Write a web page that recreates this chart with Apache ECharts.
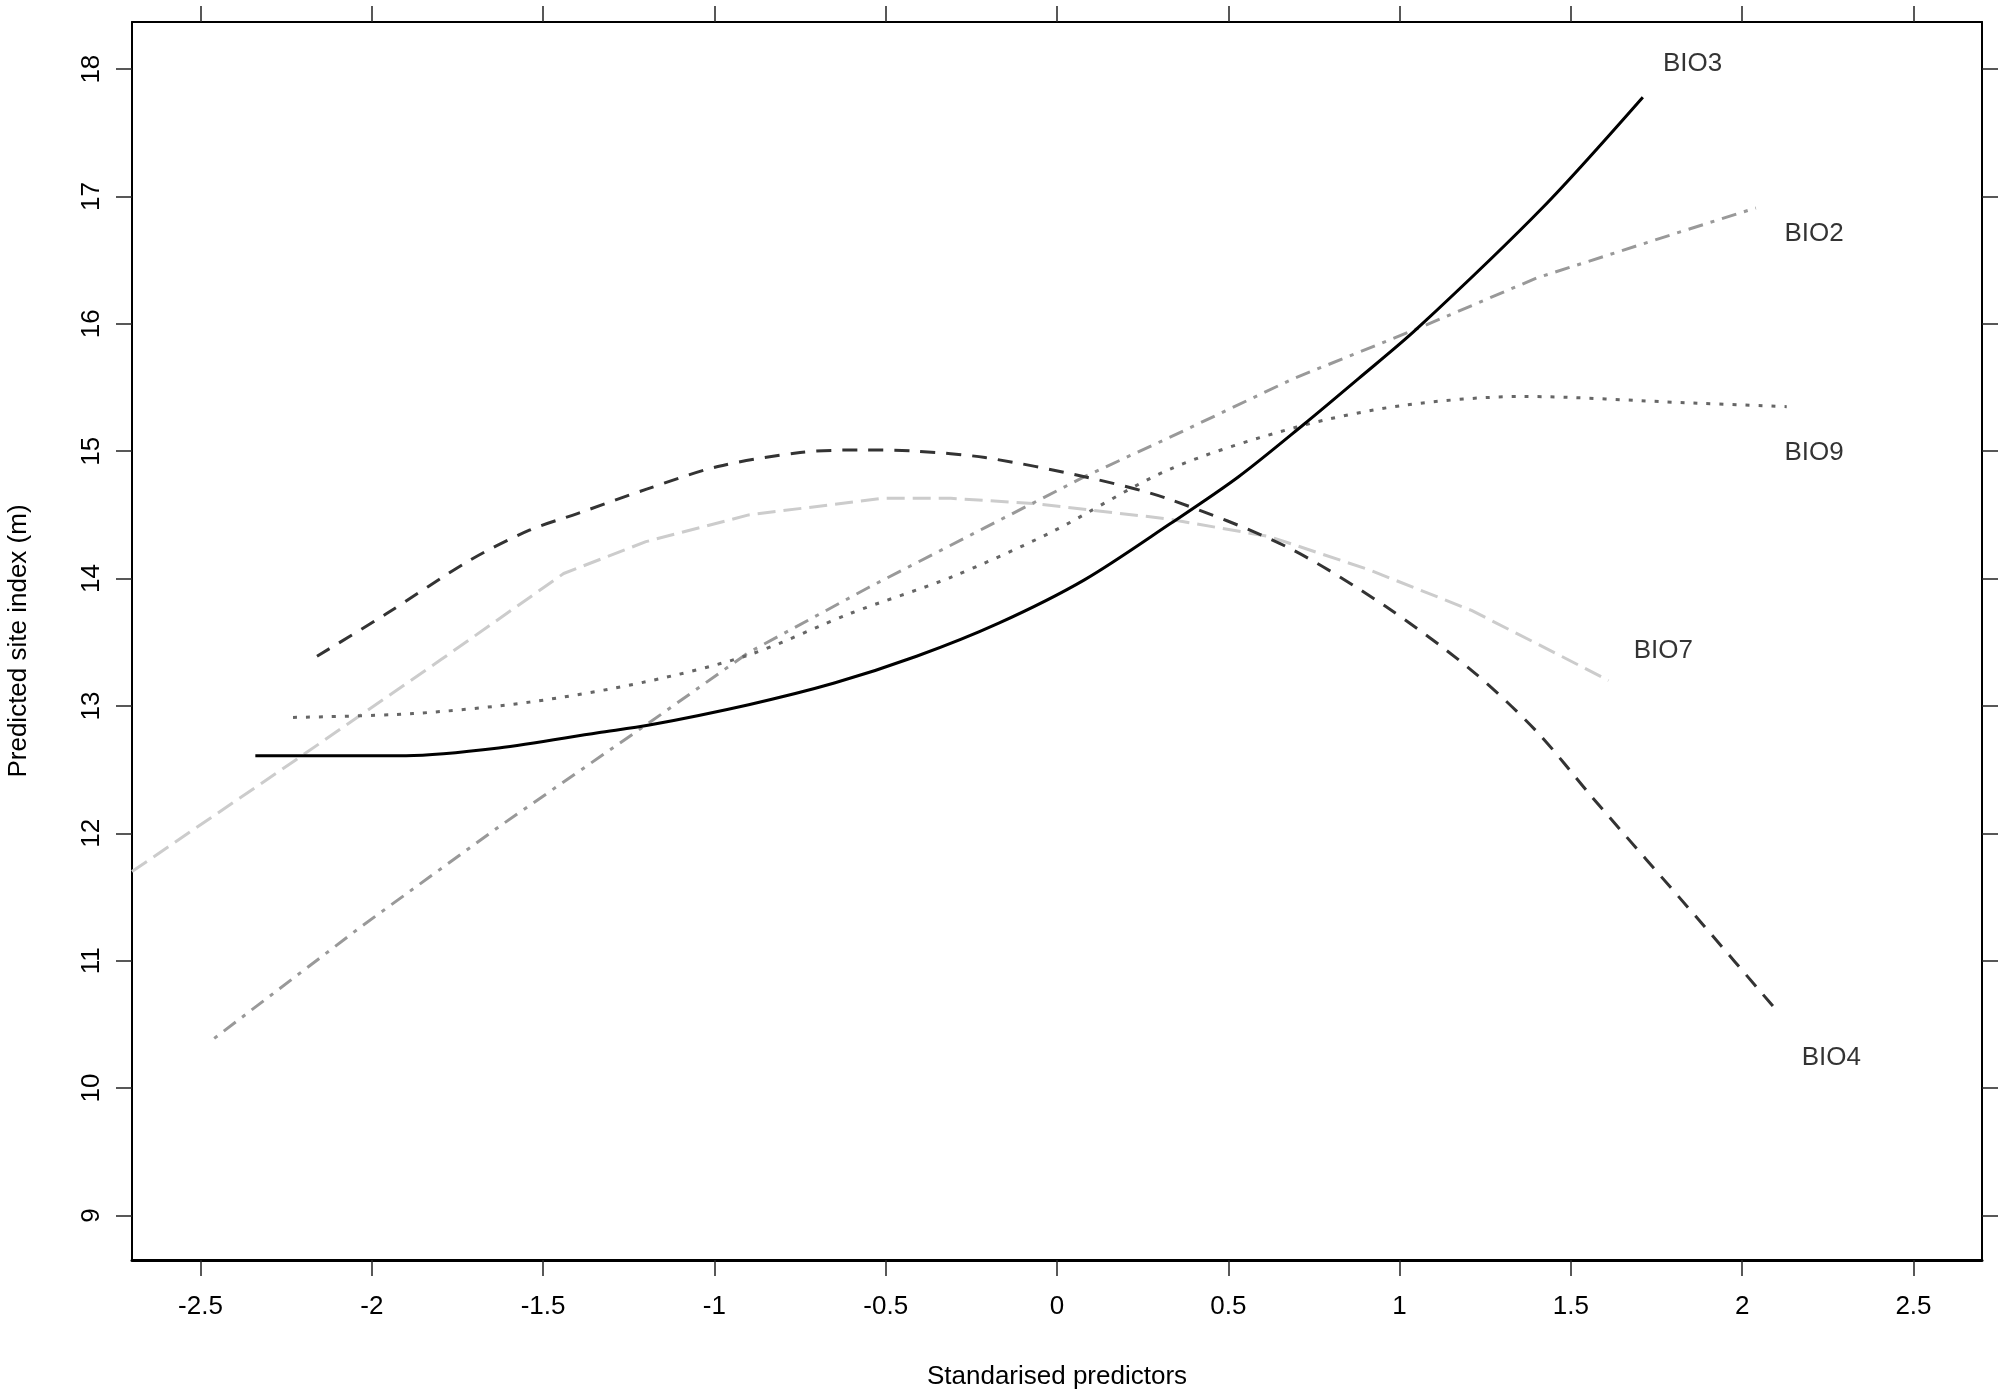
<!DOCTYPE html>
<html>
<head>
<meta charset="utf-8">
<title>Predicted site index</title>
<script src="https://cdn.jsdelivr.net/npm/echarts@6/dist/echarts.min.js"></script>
<style>
    html, body { margin: 0; padding: 0; background: #fff; }
    #main { width: 2006px; height: 1400px; }
</style>
</head>
<body>
<div id="main"></div>
<script>
// 刻度
const xTicks = [-2.5, -2, -1.5, -1, -0.5, 0, 0.5, 1, 1.5, 2, 2.5];
const yTicks = [9, 10, 11, 12, 13, 14, 15, 16, 17, 18];

// 曲线数据 (x = standardised predictor, y = predicted site index)
const bio3X = [-2.34, -1.90, -1.63, -1.34, -1.19, -0.90, -0.65, -0.41, -0.17, 0.08, 0.33, 0.53, 0.72, 0.88, 1.05, 1.42, 1.71];
const bio3Y = [12.61, 12.61, 12.67, 12.79, 12.85, 13.01, 13.18, 13.39, 13.65, 13.99, 14.43, 14.80, 15.21, 15.57, 15.96, 16.92, 17.78];

const bio2X = [-2.46, -2.03, -1.63, -1.20, -0.90, -0.55, -0.21, 0.08, 0.33, 0.69, 1.05, 1.40, 1.84, 2.04];
const bio2Y = [10.39, 11.27, 12.05, 12.85, 13.42, 13.93, 14.40, 14.80, 15.11, 15.57, 15.96, 16.36, 16.74, 16.91];

const bio9X = [-2.23, -1.88, -1.54, -1.20, -0.90, -0.60, -0.31, -0.02, 0.33, 0.70, 1.01, 1.36, 1.84, 2.13];
const bio9Y = [12.91, 12.94, 13.03, 13.19, 13.40, 13.73, 14.01, 14.36, 14.86, 15.19, 15.36, 15.43, 15.38, 15.35];

const bio7X = [-2.70, -2.22, -1.80, -1.44, -1.20, -0.90, -0.51, -0.31, -0.07, 0.32, 0.62, 0.91, 1.21, 1.40, 1.61];
const bio7Y = [11.70, 12.58, 13.36, 14.04, 14.29, 14.50, 14.63, 14.63, 14.59, 14.47, 14.33, 14.07, 13.75, 13.49, 13.20];

const bio4X = [-2.16, -1.96, -1.71, -1.54, -1.40, -1.20, -0.99, -0.75, -0.58, -0.41, -0.21, 0.08, 0.32, 0.67, 0.96, 1.21, 1.40, 1.56, 1.88, 2.11];
const bio4Y = [13.39, 13.72, 14.15, 14.38, 14.51, 14.70, 14.88, 14.99, 15.01, 15.00, 14.95, 14.80, 14.63, 14.25, 13.78, 13.28, 12.80, 12.29, 11.30, 10.58];

// 曲线标注
const labelNames = ['BIO3', 'BIO2', 'BIO9', 'BIO7', 'BIO4'];
const labelX = [1.855, 2.21, 2.21, 1.77, 2.26];
const labelY = [18.04, 16.71, 14.99, 13.43, 10.24];

const FONT = '"Liberation Sans", Arial, Helvetica, sans-serif';

// 拼成 [x, y]
function zip(xs, ys) {
    return xs.map(function (x, i) { return [x, ys[i]]; });
}

function lineSeries(name, xs, ys, color, dash, smooth) {
    return {
        name: name,
        type: 'line',
        data: zip(xs, ys),
        showSymbol: false,
        symbol: 'none',
        smooth: smooth,
        silent: true,
        lineStyle: { color: color, width: 3, type: dash, cap: 'butt', join: 'round' }
    };
}

function axisBase(ticks, showLabel, lineWidth) {
    return {
        type: 'value',
        splitLine: { show: false },
        axisLine: { show: true, onZero: false, lineStyle: { color: '#000', width: lineWidth } },
        axisTick: { show: true, inside: false, length: 16, customValues: ticks, lineStyle: { color: '#222', width: 1.5 } },
        axisLabel: { show: showLabel, customValues: ticks, color: '#000', fontSize: 26, fontFamily: FONT }
    };
}

var myChart = echarts.init(document.getElementById('main'));

var xBottom = axisBase(xTicks, true, 3);
xBottom.position = 'bottom';
xBottom.min = -2.7;
xBottom.max = 2.7;
xBottom.axisLabel.margin = 34;
xBottom.name = 'Standarised predictors';
xBottom.nameLocation = 'middle';
xBottom.nameGap = 104;
xBottom.nameTextStyle = { color: '#000', fontSize: 26, fontFamily: FONT };

var xTop = axisBase(xTicks, false, 2);
xTop.position = 'top';
xTop.min = -2.7;
xTop.max = 2.7;

var yLeft = axisBase(yTicks, true, 2);
yLeft.position = 'left';
yLeft.min = 8.65;
yLeft.max = 18.37;
yLeft.axisLabel.rotate = 90;
yLeft.axisLabel.margin = 27;
yLeft.name = 'Predicted site index (m)';
yLeft.nameLocation = 'middle';
yLeft.nameGap = 100;
yLeft.nameTextStyle = { color: '#000', fontSize: 26, fontFamily: FONT };

var yRight = axisBase(yTicks, false, 2);
yRight.position = 'right';
yRight.min = 8.65;
yRight.max = 18.37;

var option = {
    backgroundColor: '#fff',
    animation: false,
    grid: { left: 132, right: 24, top: 22, bottom: 140, containLabel: false, outerBoundsMode: 'none' },
    xAxis: [xBottom, xTop],
    yAxis: [yLeft, yRight],
    series: [
        lineSeries('BIO7', bio7X, bio7Y, '#cccccc', [18, 8], false),
        lineSeries('BIO2', bio2X, bio2Y, '#999999', [4, 8, 15, 8], false),
        lineSeries('BIO9', bio9X, bio9Y, '#666666', [4, 9], 0.3),
        lineSeries('BIO4', bio4X, bio4Y, '#333333', [15, 11], 0.3),
        lineSeries('BIO3', bio3X, bio3Y, '#000000', 'solid', 0.3),
        {
            name: 'labels',
            type: 'scatter',
            silent: true,
            symbol: 'circle',
            symbolSize: 1,
            itemStyle: { color: 'rgba(0,0,0,0)' },
            label: {
                show: true,
                position: 'inside',
                formatter: '{b}',
                color: '#000',
                fontSize: 26,
                fontFamily: FONT
            },
            data: labelNames.map(function (n, i) {
                return { name: n, value: [labelX[i], labelY[i]] };
            })
        }
    ]
};

myChart.setOption(option);
</script>
</body>
</html>
